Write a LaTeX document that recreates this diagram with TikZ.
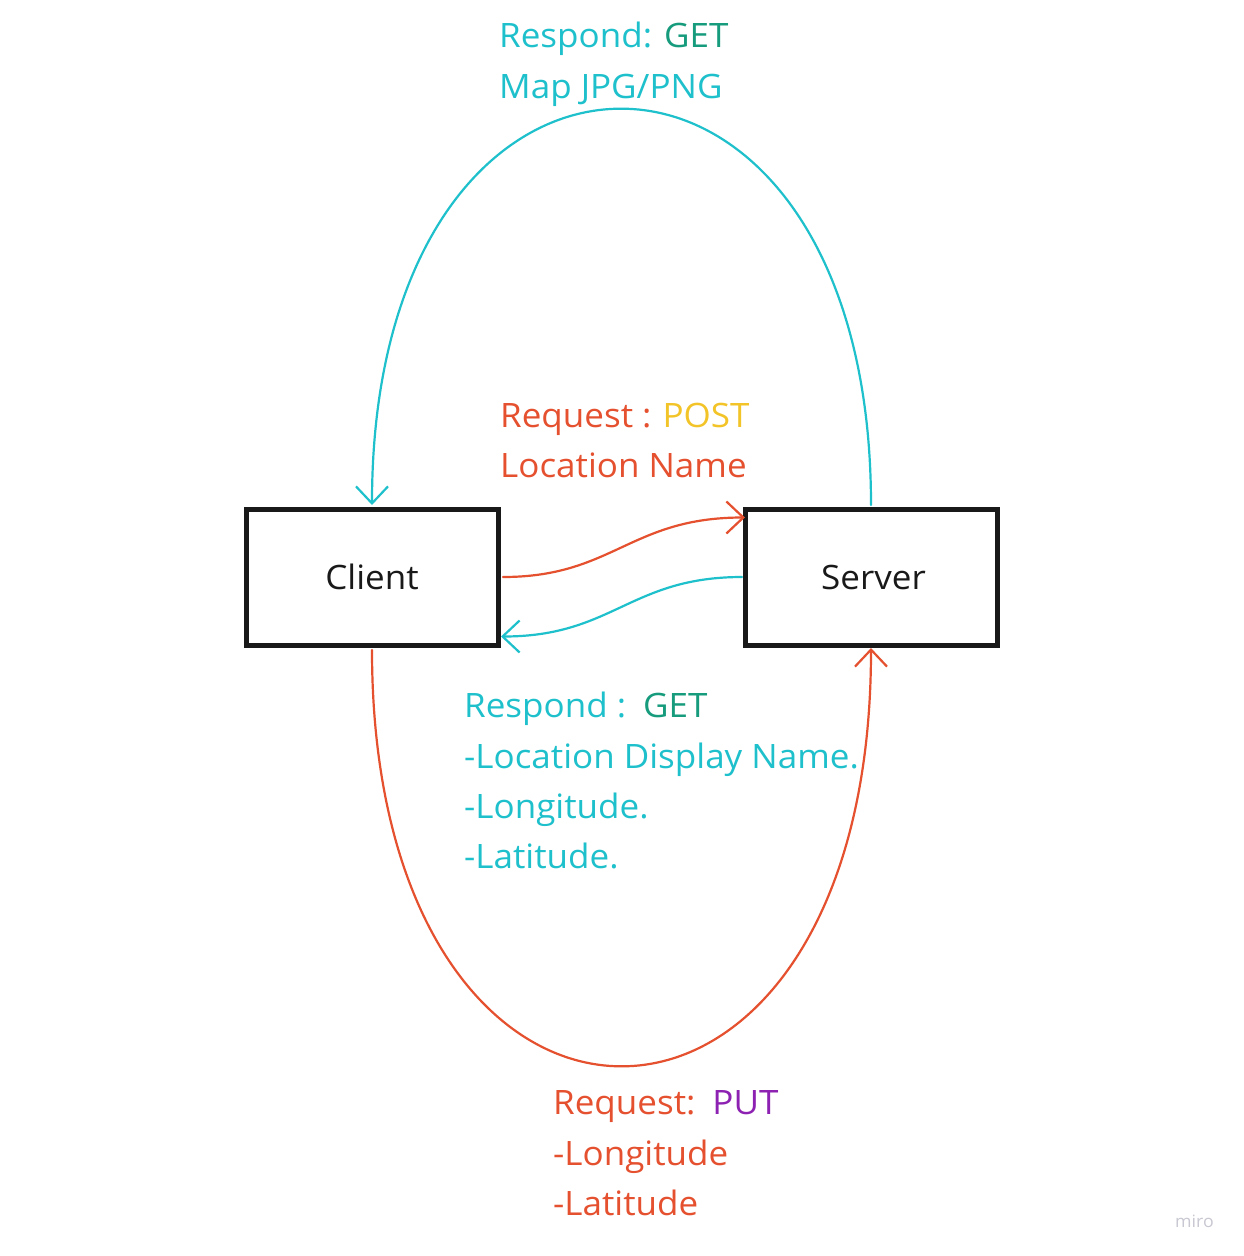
\documentclass[tikz,border=0pt]{standalone}
\usepackage{fontspec}
\setmainfont{Open Sans}[FakeStretch=1.042]
\usetikzlibrary{arrows.meta,calc}
\definecolor{cyanL}{RGB}{30,192,204}
\definecolor{tealG}{RGB}{22,155,125}
\definecolor{redO}{RGB}{229,80,47}
\definecolor{yelP}{RGB}{243,196,40}
\definecolor{purP}{RGB}{141,33,178}
\definecolor{wmark}{RGB}{200,200,210}
\tikzset{
  box/.style={draw=black!90, line width=5pt, minimum width=252pt, minimum height=136pt, inner sep=0pt, outer sep=0pt, font=\fontsize{33.6}{40}\selectfont, text=black!90},
  conn/.style={line width=2.2pt, line cap=round, -{Straight Barb[length=17pt,width=32pt,line width=2.2pt]}},
  lbl/.style={anchor=base west, inner sep=0pt, font=\fontsize{33.6}{40}\selectfont}
}
\begin{document}
\begin{tikzpicture}[x=1pt,y=-1pt]
\useasboundingbox (0,0) rectangle (1243,1256);
\fill[white] (0,0) rectangle (1243,1256);
% boxes
\node[box] (client) at (372,577) {Client};
\node[box] (server) at (871,577) {\hspace{5pt}Server};
% top arc: server -> client
\draw[conn, cyanL, shorten <=4pt, shorten >=4pt] (server.north) .. controls +(0,-532) and +(0,-532) .. (client.north);
% bottom arc: client -> server
\draw[conn, redO, shorten <=5pt, shorten >=3pt] (client.south) .. controls +(0,560) and +(0,560) .. (server.south);
% middle S curves
\draw[conn, redO, shorten <=5pt] (client.east) .. controls +(115,0) and +(-115,0) .. ($(server.north west)!0.0625!(server.south west)$);
\draw[conn, cyanL, shorten <=3pt, shorten >=3pt] (server.west) .. controls +(-115,0) and +(115,0) .. ($(client.south east)!0.0625!(client.north east)$);
% labels
\node[lbl, text=cyanL] (t1) at (499,47) {Respond:\hspace{12pt}\textcolor{tealG}{GET}};
\node[lbl, text=cyanL] (t2) at (499,98) {Map JPG/PNG};
\node[lbl, text=redO] (p1) at (500,427) {Request :\hspace{11pt}\textcolor{yelP}{POST}};
\node[lbl, text=redO] (p2) at (500,477) {Location Name};
\node[lbl, text=cyanL] (g1) at (464,717) {Respond :\hspace{17pt}\textcolor{tealG}{GET}};
\node[lbl, text=cyanL] (g2) at (464,768) {-Location Display Name.};
\node[lbl, text=cyanL] (g3) at (464,818) {-Longitude.};
\node[lbl, text=cyanL] (g4) at (464,868) {-Latitude.};
\node[lbl, text=redO] (u1) at (553,1114) {Request:\hspace{17pt}\textcolor{purP}{PUT}};
\node[lbl, text=redO] (u2) at (553,1165) {-Longitude};
\node[lbl, text=redO] (u3) at (553,1215) {-Latitude};
\node[anchor=base west, inner sep=0pt, font=\fontsize{17}{20}\selectfont, text=wmark] (miro) at (1175,1227) {miro};
\end{tikzpicture}
\end{document}
